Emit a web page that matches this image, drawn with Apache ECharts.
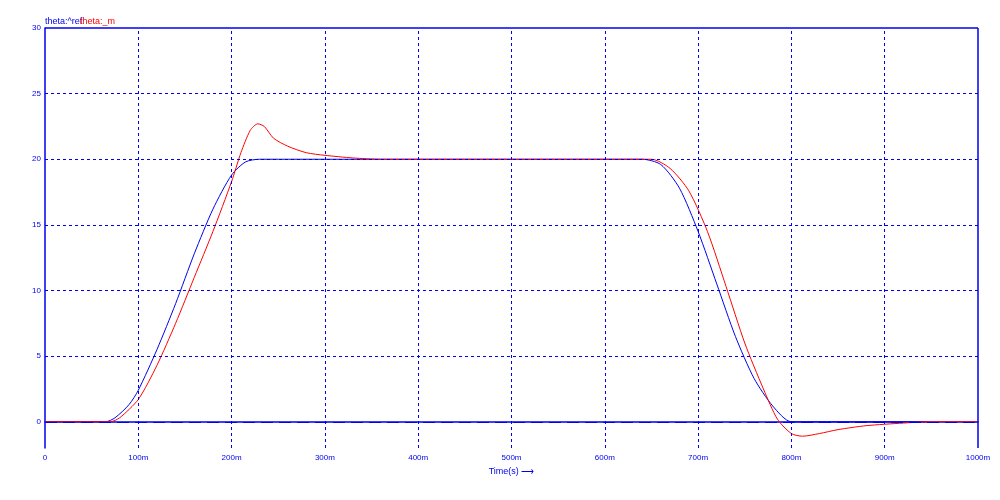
<!DOCTYPE html><html><head><meta charset="utf-8"><script src="https://cdn.jsdelivr.net/npm/echarts@6/dist/echarts.min.js"></script></head><body style="margin:0"><div id="c" style="width:1000px;height:500px"></div><script>
const refData=[[0,0],[65,0],[75,0.3],[90,1.3],[100,2.4],[120,5.5],[140,9],[160,12.8],[180,16.2],[200,18.8],[215,19.8],[230,20],[640,20],[660,19.6],[680,17.8],[700,14.5],[720,10.5],[740,6.5],[760,3.3],[780,1.2],[800,0],[945,0]];
const mData=[[0,0],[70,0],[80,0.3],[100,1.7],[120,4.3],[140,7.5],[160,11],[180,14.5],[200,18.3],[210,20.5],[220,22.2],[228,22.7],[235,22.5],[245,21.6],[260,21],[280,20.5],[300,20.3],[330,20.1],[360,20],[650,20],[670,19.3],[690,17.6],[710,14.5],[730,10.3],[750,6],[770,2.5],[785,0.2],[800,-0.9],[812,-1.1],[830,-0.9],[850,-0.6],[880,-0.3],[920,-0.1],[950,0],[1000,0]];
const yTicks=[0,5,10,15,20,25,30];
const xGrid=[100,200,300,400,500,600,700,800,900];
const hGrid=[5,10,15,20,25];
const c=echarts.init(document.getElementById('c'));
const gl={color:'#0000ee',type:[3,3],width:1};
c.setOption({animation:false,
grid:{left:45,right:22,top:28,bottom:52},
graphic:[{type:'text',left:45,top:17,style:{text:'theta:^ref',fill:'#0000ee',font:'9px Arial'}},{type:'text',left:80,top:17,style:{text:'theta:_m',fill:'#ff0000',font:'9px Arial'}}],
xAxis:{type:'value',min:0,max:1000,interval:100,name:'Time(s) ⟶',nameLocation:'middle',nameGap:8,nameTextStyle:{color:'#0000ee',fontSize:9,fontFamily:'Arial'},
axisLine:{show:true,lineStyle:{color:'#0000ee',width:1.5}},axisTick:{show:false},splitLine:{show:false},
axisLabel:{color:'#0000ee',fontSize:8,fontFamily:'Arial',margin:6,formatter:v=>v===0?'0':v+'m'}},
yAxis:{type:'value',min:-2,max:30,axisLine:{show:true,lineStyle:{color:'#0000ee',width:1.5}},axisTick:{show:false},splitLine:{show:false},
axisLabel:{color:'#0000ee',fontSize:8,fontFamily:'Arial',customValues:yTicks,margin:4}},
series:[
{type:'line',data:refData,showSymbol:false,smooth:0.25,lineStyle:{color:'#0000ee',width:1},z:3},
{type:'line',data:mData,showSymbol:false,smooth:0.25,lineStyle:{color:'#ff0000',width:1},z:4,
 markLine:{silent:true,symbol:'none',label:{show:false},lineStyle:gl,data:[...xGrid.map(x=>({xAxis:x})),...hGrid.map(y=>({yAxis:y})),{yAxis:30,lineStyle:{color:'#0000ee',type:'solid',width:1.5}},{xAxis:1000,lineStyle:{color:'#0000ee',type:'solid',width:1.5}}]}},
{type:'line',data:[],markLine:{silent:true,symbol:'none',label:{show:false},z:5,data:[{yAxis:0}],lineStyle:{color:'#0000ee',type:[12,6],width:1}}}
]});
</script></body></html>
